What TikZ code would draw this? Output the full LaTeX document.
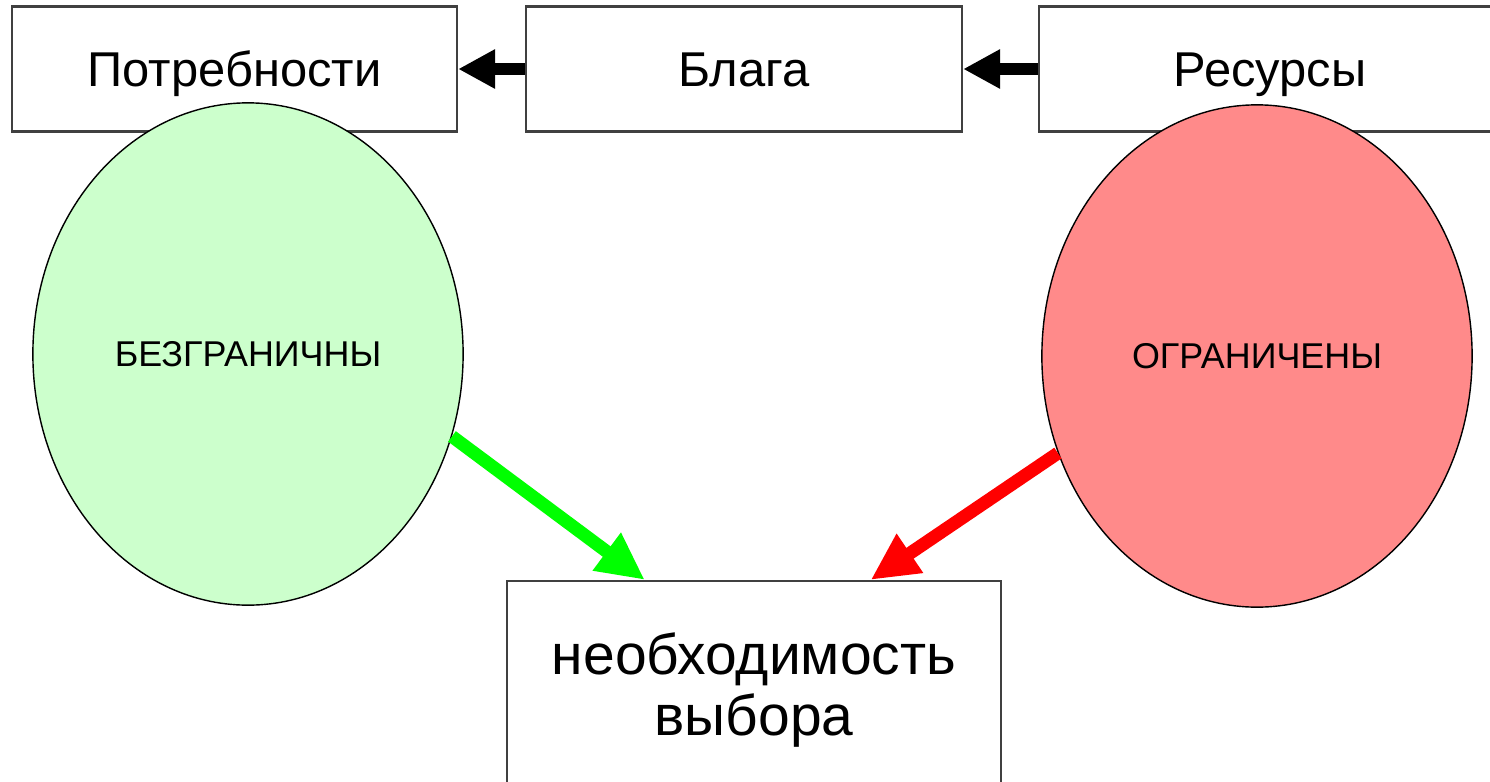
\documentclass[tikz,border=0pt]{standalone}
\usepackage{fontspec}
\setmainfont{Liberation Sans}
\usetikzlibrary{shapes.geometric,arrows.meta,calc}
\definecolor{palegreen}{RGB}{204,255,204}
\definecolor{palered}{RGB}{255,138,138}
\begin{document}
\begin{tikzpicture}
[x=0.01cm,y=-0.01cm,%
  boxdecorate/.style={shape=rectangle,draw=black!75,line width=0.6pt,inner sep=0pt,%
    minimum height=1.25cm,text height=10pt,text depth=0pt,font=\fontsize{13.9}{17}\selectfont},%
  ovaldecorate/.style={shape=ellipse,draw,line width=0.4pt,inner sep=0pt,%
    minimum width=4.3cm,minimum height=5.02cm,font=\fontsize{10.2}{12}\selectfont},%
  blackarrow/.style={-{Triangle[length=10.5pt,width=10.5pt]},line width=3.4pt},%
  colorarrow/.style={-{Triangle[length=13.5pt,width=12.5pt]},line width=3.7pt}]
\useasboundingbox (0,0) rectangle (1490,781);
%% top row of boxes
\foreach \nodename/\x/\width/\label in {needs/234.5/4.45/Потребности,
  goods/744/4.36/Блага, resources/1270/4.62/Ресурсы} {
  \node (\nodename) at (\x,69) [boxdecorate,minimum width=\width cm] {\label};
}
%% ovals
\node (limitless) at (248,354) [ovaldecorate,fill=palegreen] {БЕЗГРАНИЧНЫ};
\node (limited) at (1257,356) [ovaldecorate,fill=palered] {ОГРАНИЧЕНЫ};
%% result box
\node (choice) at (754,690) [boxdecorate,minimum width=4.94cm,minimum height=2.18cm,%
  text height=,text depth=,align=center,font=\fontsize{16.2}{17.1}\selectfont]
  {необходимость\\выбора};
%% arrows
\draw[blackarrow] (goods) -- (needs);
\draw[blackarrow] (resources) -- (goods);
\draw[colorarrow,green] (limitless.-22.6)
  -- ($(choice.north west)!0.28!(choice.north east)$);
\draw[colorarrow,red] (limited.206)
  -- ($(choice.north west)!0.735!(choice.north east)$);
\end{tikzpicture}
\end{document}
